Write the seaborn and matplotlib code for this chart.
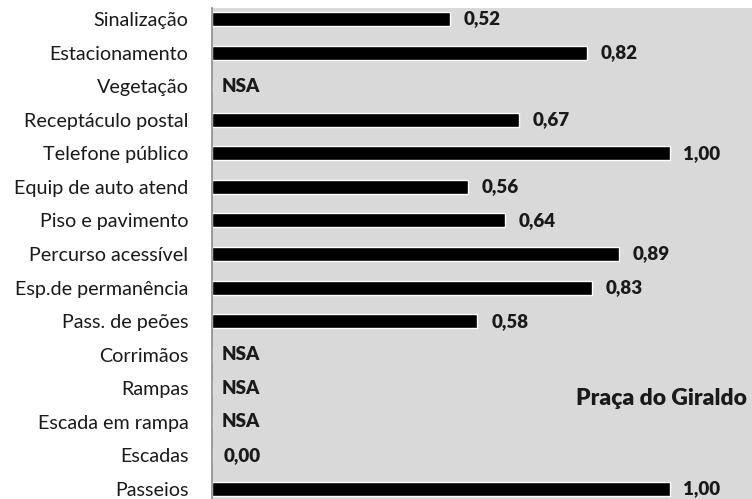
import matplotlib
matplotlib.use('Agg')
import matplotlib.pyplot as plt
import seaborn as sns
import pandas as pd

categories = ['Sinalização', 'Estacionamento', 'Vegetação', 'Receptáculo postal',
              'Telefone público', 'Equip de auto atend', 'Piso e pavimento',
              'Percurso acessível', 'Esp.de permanência', 'Pass. de peões',
              'Corrimãos', 'Rampas', 'Escada em rampa', 'Escadas', 'Passeios']
# None = NSA (não se aplica)
values = [0.52, 0.82, None, 0.67, 1.00, 0.56, 0.64, 0.89, 0.83, 0.58,
          None, None, None, 0.00, 1.00]

df = pd.DataFrame({'item': categories, 'valor': values})
df['plot'] = df['valor'].fillna(0)

sns.set_style('white')
plt.rcParams['font.family'] = ['Lato', 'DejaVu Sans']

fig = plt.figure(figsize=(7.52, 4.99), dpi=100)
ax = fig.add_axes([212 / 752, 0, 540 / 752, 491 / 499])
ax.set_facecolor('#d9d9d9')

sns.barplot(data=df, y='item', x='plot', color='black', width=0.42,
            orient='h', ax=ax, saturation=1)

lbl_color = '#1a1a1a'
for i, v in enumerate(values):
    if v is None:
        ax.text(0.022, i, 'NSA', va='center', ha='left', fontsize=13.5,
                fontweight='heavy', color=lbl_color)
    elif v == 0:
        ax.text(0.026, i, '0,00', va='center', ha='left', fontsize=13.5,
                fontweight='heavy', color=lbl_color)
    else:
        ax.text(v + 0.03, i, f'{v:.2f}'.replace('.', ','), va='center',
                ha='left', fontsize=13.5, fontweight='heavy', color=lbl_color)

ax.text(1.17, 11.3, 'Praça do Giraldo', ha='right', va='center',
        fontsize=16.5, fontweight='heavy', color=lbl_color)

ax.set_xlim(0, 1.18)
ax.set_ylim(14.3, -0.33)
ax.set_xlabel('')
ax.set_ylabel('')
ax.set_xticks([])
ax.tick_params(axis='y', length=0, labelsize=14.2, pad=17, labelcolor='#1a1a1a')
for s in ['top', 'right', 'bottom']:
    ax.spines[s].set_visible(False)
ax.spines['left'].set_color('#8c8c8c')
ax.spines['left'].set_linewidth(1.2)

fig.savefig('out.png', dpi=100)
